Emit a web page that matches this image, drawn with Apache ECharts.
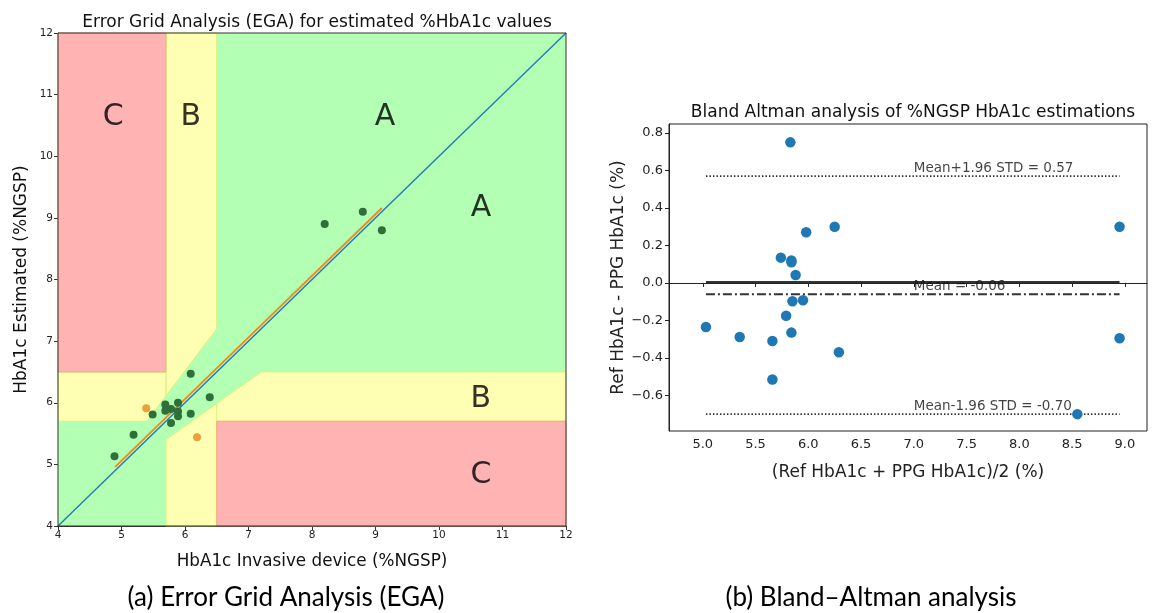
<!DOCTYPE html>
<html>
<head>
<meta charset="utf-8">
<script src="https://cdn.jsdelivr.net/npm/echarts@6/dist/echarts.min.js"></script>
<style>
  html, body { margin: 0; padding: 0; background: #fff; }
  #chart { width: 1157px; height: 613px; }
</style>
</head>
<body>
<div id="chart"></div>
<script>
// ---------- Error Grid Analysis (left panel) ----------
const egaTicks = [4, 5, 6, 7, 8, 9, 10, 11, 12];

// zone outlines in (%NGSP invasive, %NGSP estimated)
const zoneGreen = [[4, 4], [12, 4], [12, 12], [4, 12]];
const zoneYellowTop = [[5.7, 6.11], [6.5, 7.2], [6.5, 12], [5.7, 12]];
const zoneYellowLeft = [[4, 5.7], [5.4, 5.7], [5.7, 6.11], [5.7, 6.5], [4, 6.5]];
const zoneYellowBottom = [[5.7, 4], [6.5, 4], [6.5, 5.99], [5.7, 5.4]];
const zoneYellowRight = [[6.5, 5.7], [6.5, 5.99], [7.2, 6.5], [12, 6.5], [12, 5.7]];
const zoneRedTop = [[4, 6.5], [5.7, 6.5], [5.7, 12], [4, 12]];
const zoneRedBottom = [[6.5, 4], [12, 4], [12, 5.7], [6.5, 5.7]];

const zoneLetters = [
  [4.87, 10.64, 'C'], [6.09, 10.64, 'B'], [9.15, 10.64, 'A'],
  [10.66, 9.16, 'A'], [10.66, 6.06, 'B'], [10.66, 4.83, 'C']
];

const identityLine = [[4, 4], [12, 12]];
const fitLine = [[4.9, 4.96], [9.1, 9.16]];

// paired readings inside zone A
const egaZoneA = [
  [4.89, 5.13], [5.19, 5.48], [5.49, 5.81], [5.69, 5.97], [5.69, 5.87],
  [5.78, 5.90], [5.89, 6.00], [5.89, 5.86], [5.89, 5.78], [5.78, 5.67],
  [6.09, 6.47], [6.09, 5.82], [6.39, 6.09],
  [8.20, 8.90], [8.80, 9.10], [9.10, 8.80]
];
// paired readings inside zone B
const egaZoneB = [[5.39, 5.91], [6.19, 5.44]];

// ---------- Bland-Altman (right panel) ----------
const baMeanValues = [
  5.03, 5.35, 5.66, 5.66, 5.74, 5.79, 5.83, 5.84, 5.84, 5.84,
  5.85, 5.88, 5.95, 5.98, 6.25, 6.29, 8.55, 8.95, 8.95
];
const baDiffValues = [
  -0.235, -0.288, -0.31, -0.515, 0.135, -0.175, 0.75, 0.12, 0.11, -0.265,
  -0.098, 0.042, -0.092, 0.27, 0.30, -0.37, -0.70, 0.30, -0.295
];
const baRange = [5.03, 8.95];
const baZero = 0.005;
const baMean = -0.06;
const baUpper = 0.57;
const baLower = -0.70;
const baLabelX = 7.0;
const baXTicks = [5.0, 5.5, 6.0, 6.5, 7.0, 7.5, 8.0, 8.5, 9.0];
const baYTicks = [-0.6, -0.4, -0.2, 0.0, 0.2, 0.4, 0.6, 0.8];

const FONT = 'DejaVu Sans';
const CAPTION_FONT = 'Lato';
const MINUS = '\u2212';
const fmtOne = v => (v < 0 ? MINUS : '') + Math.abs(v).toFixed(1);

function polygonSeries(points, fill, stroke) {
  return {
    type: 'custom',
    xAxisIndex: 0, yAxisIndex: 0,
    silent: true,
    z: 1,
    data: [0],
    renderItem: function (params, api) {
      return {
        type: 'polygon',
        shape: { points: points.map(p => api.coord(p)) },
        style: { fill: fill, stroke: stroke, lineWidth: 1 }
      };
    }
  };
}

function baLine(y, width, dash) {
  return {
    type: 'line', xAxisIndex: 1, yAxisIndex: 1, z: 3, silent: true, symbol: 'none',
    data: baRange.map(x => [x, y]),
    lineStyle: { color: '#333', width: width, type: dash }
  };
}

const chart = echarts.init(document.getElementById('chart'), null, { renderer: 'canvas' });

const option = {
  backgroundColor: '#ffffff',
  animation: false,
  title: [
    {
      text: 'Error Grid Analysis (EGA) for estimated %HbA1c values',
      left: 312, top: 9, textAlign: 'center',
      textStyle: { fontFamily: FONT, fontSize: 17, fontWeight: 'normal', color: '#111' }
    },
    {
      text: 'Bland Altman analysis of %NGSP HbA1c estimations',
      left: 908, top: 99, textAlign: 'center',
      textStyle: { fontFamily: FONT, fontSize: 17, fontWeight: 'normal', color: '#111' }
    }
  ],
  grid: [
    { left: 58, top: 33, width: 508, height: 493, show: true, borderColor: '#333', borderWidth: 1, backgroundColor: 'transparent', z: 5 },
    { left: 669, top: 124, width: 478, height: 307, show: true, borderColor: '#222', borderWidth: 1, backgroundColor: 'transparent' }
  ],
  xAxis: [
    {
      gridIndex: 0, type: 'value', min: 4, max: 12, interval: 1,
      name: 'HbA1c Invasive device (%NGSP)', nameLocation: 'middle', nameGap: 27,
      nameTextStyle: { fontFamily: FONT, fontSize: 16.8, color: '#111' },
      axisLine: { show: true, lineStyle: { color: '#333' } },
      axisTick: { show: true, length: 4, lineStyle: { color: '#333' } },
      axisLabel: { fontFamily: FONT, fontSize: 10.5, color: '#222', margin: 4,
        customValues: egaTicks },
      splitLine: { show: false }
    },
    {
      gridIndex: 1, type: 'value', min: 4.68, max: 9.21,
      name: '(Ref HbA1c + PPG HbA1c)/2 (%)', nameLocation: 'middle', nameGap: 33,
      nameTextStyle: { fontFamily: FONT, fontSize: 17, color: '#222' },
      axisLine: { show: true, lineStyle: { color: '#222' } },
      axisTick: { show: true, length: 4, lineStyle: { color: '#222' }, customValues: baXTicks },
      axisLabel: { fontFamily: FONT, fontSize: 13, color: '#222', margin: 7,
        customValues: baXTicks, formatter: v => v.toFixed(1) },
      splitLine: { show: false }
    }
  ],
  yAxis: [
    {
      gridIndex: 0, type: 'value', min: 4, max: 12, interval: 1,
      name: 'HbA1c Estimated (%NGSP)', nameLocation: 'middle', nameGap: 28,
      nameTextStyle: { fontFamily: FONT, fontSize: 17, color: '#111' },
      axisLine: { show: true, lineStyle: { color: '#333' } },
      axisTick: { show: true, length: 4, lineStyle: { color: '#333' } },
      axisLabel: { fontFamily: FONT, fontSize: 10.5, color: '#222', margin: 5 },
      splitLine: { show: false }
    },
    {
      gridIndex: 1, type: 'value', min: -0.79, max: 0.848,
      name: 'Ref HbA1c - PPG HbA1c (%)', nameLocation: 'middle', nameGap: 42,
      nameTextStyle: { fontFamily: FONT, fontSize: 17, color: '#222' },
      axisLine: { show: true, lineStyle: { color: '#222' } },
      axisTick: { show: true, length: 4, lineStyle: { color: '#222' }, customValues: baYTicks },
      axisLabel: { fontFamily: FONT, fontSize: 13, color: '#222', margin: 6,
        customValues: baYTicks, formatter: fmtOne },
      splitLine: { show: false }
    }
  ],
  graphic: [
    {
      type: 'text', x: 286, y: 598,
      style: { text: '(a) Error Grid Analysis (EGA)', fontFamily: CAPTION_FONT, fontSize: 26, fill: '#000',
        textAlign: 'center', textVerticalAlign: 'middle' }
    },
    {
      type: 'text', x: 871, y: 598,
      style: { text: '(b) Bland\u2013Altman analysis', fontFamily: CAPTION_FONT, fontSize: 26, fill: '#000',
        textAlign: 'center', textVerticalAlign: 'middle' }
    }
  ],
  series: [
    // error grid zones
    polygonSeries(zoneGreen, '#b3ffb3', 'none'),
    polygonSeries(zoneYellowTop, '#ffffb3', '#d4f57a'),
    polygonSeries(zoneYellowLeft, '#ffffb3', '#d4f57a'),
    polygonSeries(zoneYellowBottom, '#ffffb3', '#d4f57a'),
    polygonSeries(zoneYellowRight, '#ffffb3', '#d4f57a'),
    polygonSeries(zoneRedTop, '#ffb3b3', '#f5a878'),
    polygonSeries(zoneRedBottom, '#ffb3b3', '#f5a878'),
    {
      type: 'scatter', xAxisIndex: 0, yAxisIndex: 0, z: 2, silent: true,
      symbolSize: 0,
      data: zoneLetters,
      label: {
        show: true, position: 'inside', formatter: p => p.value[2],
        fontFamily: 'DejaVu Sans', fontSize: 30, color: '#000'
      }
    },
    {
      type: 'line', xAxisIndex: 0, yAxisIndex: 0, z: 3, silent: true,
      data: identityLine, symbol: 'none',
      lineStyle: { color: '#2a7ab8', width: 1.5 }
    },
    {
      type: 'line', xAxisIndex: 0, yAxisIndex: 0, z: 3, silent: true,
      data: fitLine, symbol: 'none',
      lineStyle: { color: '#f28a1e', width: 1.8 }
    },
    {
      type: 'scatter', xAxisIndex: 0, yAxisIndex: 0, z: 4, silent: true,
      data: egaZoneA, symbolSize: 8,
      itemStyle: { color: '#2f6f3a', opacity: 1 }
    },
    {
      type: 'scatter', xAxisIndex: 0, yAxisIndex: 0, z: 4, silent: true,
      data: egaZoneB, symbolSize: 8,
      itemStyle: { color: '#e9a23a', opacity: 1 }
    },

    // Bland-Altman panel
    {
      type: 'scatter', xAxisIndex: 1, yAxisIndex: 1, z: 4, silent: true,
      data: baMeanValues.map((m, i) => [m, baDiffValues[i]]),
      symbolSize: 10.5,
      itemStyle: { color: '#1f77b4', opacity: 1 }
    },
    baLine(baZero, 2, 'solid'),
    baLine(baMean, 2, [9, 3, 2, 3]),
    baLine(baUpper, 1.6, [1.5, 2]),
    baLine(baLower, 1.6, [1.5, 2]),
    {
      type: 'scatter', xAxisIndex: 1, yAxisIndex: 1, z: 5, silent: true,
      symbolSize: 0,
      data: [
        [baLabelX, baUpper, 'Mean+1.96 STD = ' + baUpper.toFixed(2)],
        [baLabelX, baMean, 'Mean = ' + baMean.toFixed(2)],
        [baLabelX, baLower, 'Mean-1.96 STD = ' + baLower.toFixed(2)]
      ],
      label: {
        show: true, position: 'right', distance: 0, offset: [0, -8],
        formatter: p => p.value[2],
        fontFamily: FONT, fontSize: 13.5, color: '#111'
      }
    }
  ]
};

chart.setOption(option);
</script>
</body>
</html>
